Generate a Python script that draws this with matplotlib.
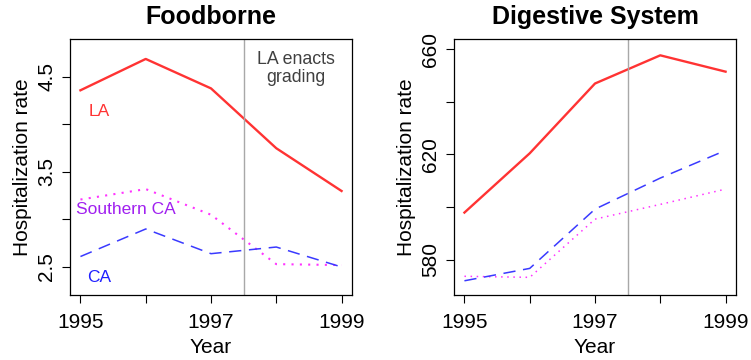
import matplotlib
matplotlib.use("Agg")
import matplotlib.pyplot as plt

plt.rcParams['font.family'] = ['Liberation Sans', 'DejaVu Sans']

years = [1995, 1996, 1997, 1998, 1999]

# Foodborne hospitalization rates
food_la = [4.36, 4.69, 4.38, 3.75, 3.30]
food_socal = [3.21, 3.32, 3.05, 2.53, 2.52]
food_ca = [2.61, 2.90, 2.64, 2.71, 2.50]

# Digestive system hospitalization rates
dig_la = [597.9, 620.4, 646.9, 657.6, 651.4]
dig_socal = [573.7, 573.3, 595.4, 601.0, 606.8]
dig_ca = [572.0, 576.7, 599.2, 611.0, 621.5]

food_yticks = [2.5, 3.0, 3.5, 4.0, 4.5]
food_ylabels = ['2.5', '', '3.5', '', '4.5']
dig_yticks = [580, 600, 620, 640, 660]
dig_ylabels = ['580', '', '620', '', '660']
xlabels = ['1995', '', '1997', '', '1999']

RED = '#ff3333'
BLUE = '#3a3aff'
MAGENTA = '#ff33ff'

fig = plt.figure(figsize=(7.51, 3.6), dpi=100)
W, H = 751, 360
ax1 = fig.add_axes([70 / W, 65 / H, 282 / W, 256 / H])
ax2 = fig.add_axes([454 / W, 65 / H, 282 / W, 256 / H])


def style_axes(ax, yticks, ylabels, ylim, title):
    ax.set_xlim(1994.84, 1999.16)
    ax.set_ylim(*ylim)
    ax.set_xticks(years)
    ax.set_xticklabels(xlabels)
    ax.set_yticks(yticks)
    ax.set_yticklabels(ylabels, rotation=90, va='center')
    ax.tick_params(axis='both', length=6, width=0.8, labelsize=15, color='black')
    ax.tick_params(axis='x', pad=7)
    ax.tick_params(axis='y', pad=4)
    for s in ax.spines.values():
        s.set_linewidth(0.9)
        s.set_color('black')
    ax.set_xlabel('Year', fontsize=15, labelpad=4)
    ax.set_ylabel('Hospitalization rate', fontsize=15, labelpad=4)
    ax.set_title(title, fontsize=18, fontweight='bold', pad=11)
    ax.axvline(1997.5, color='#a8a8a8', linewidth=1)


# Foodborne panel
ax1.plot(years, food_la, color=RED, linewidth=1.7)
ax1.plot(years, food_socal, color=MAGENTA, linewidth=1.5, linestyle=(0, (1, 3)))
ax1.plot(years, food_ca, color=BLUE, linewidth=1.1, linestyle=(0, (8, 5)))
style_axes(ax1, food_yticks, food_ylabels, (2.205, 4.9), 'Foodborne')
ax1.text(1995.29, 4.14, 'LA', color=RED, fontsize=12.5, ha='center', va='center')
ax1.text(1995.7, 3.10, 'Southern CA', color='#a020f0', fontsize=12.5, ha='center', va='center')
ax1.text(1995.29, 2.39, 'CA', color='#2020ff', fontsize=12.5, ha='center', va='center')
ax1.text(1998.3, 4.59, 'LA enacts\ngrading', color='#404040', fontsize=12.8,
         ha='center', va='center', linespacing=1.1)

# Digestive system panel
ax2.plot(years, dig_la, color=RED, linewidth=1.7)
ax2.plot(years, dig_socal, color=MAGENTA, linewidth=1.1, linestyle=(0, (1, 3)))
ax2.plot(years, dig_ca, color=BLUE, linewidth=1.1, linestyle=(0, (8, 5)))
style_axes(ax2, dig_yticks, dig_ylabels, (566.6, 663.8), 'Digestive System')

fig.savefig('out.png', dpi=100)
